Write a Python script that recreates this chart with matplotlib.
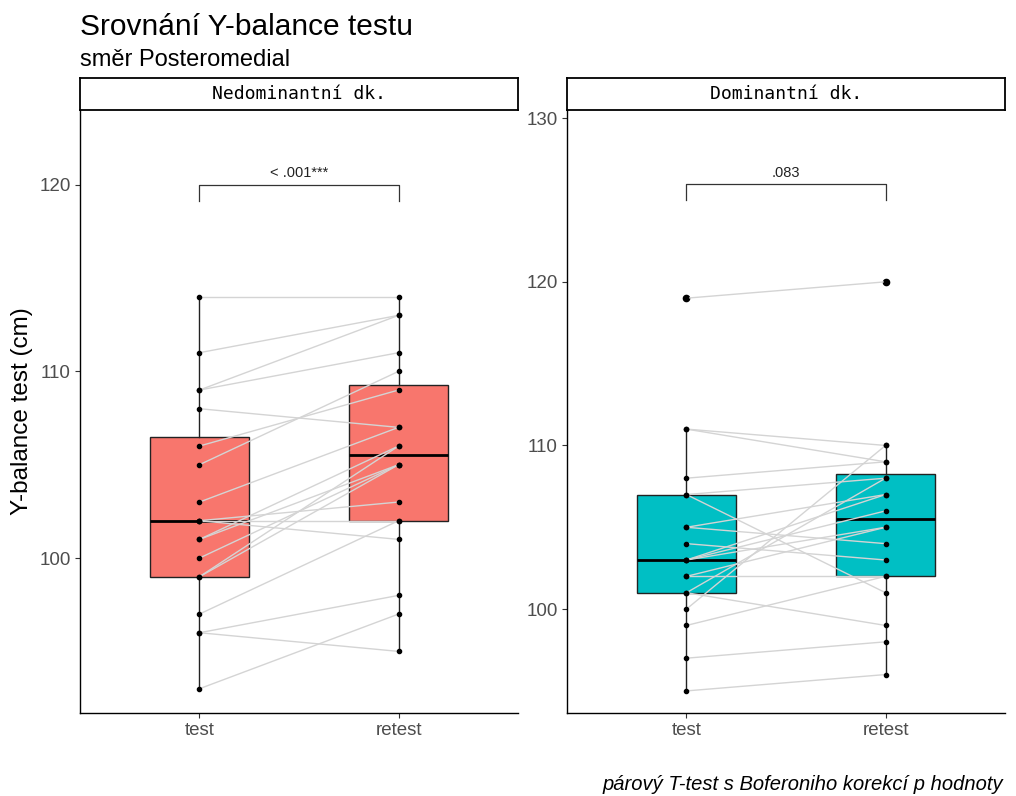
import matplotlib
matplotlib.use("Agg")
import matplotlib.pyplot as plt

plt.rcParams['font.family'] = ['Liberation Sans', 'DejaVu Sans']

# data (paired test / retest, cm)
categories = ["test", "retest"]
panel_titles = ["Nedominantní dk.", "Dominantní dk."]

nedom_test = [114, 111, 109, 109, 108, 106, 105, 103, 102, 102,
              102, 101, 101, 100, 99, 99, 97, 96, 96, 93]
nedom_retest = [114, 113, 113, 111, 107, 109, 110, 107, 102, 101,
                103, 106, 105, 105, 106, 105, 102, 98, 95, 97]

dom_test = [119, 111, 111, 108, 107, 107, 105, 105, 104, 103,
            103, 103, 102, 102, 101, 101, 100, 99, 97, 95]
dom_retest = [120, 110, 109, 109, 101, 108, 104, 107, 103, 106,
              107, 105, 102, 105, 99, 108, 110, 102, 98, 96]

p_labels = ["< .001***", ".083"]
bracket_y = [120, 126]

fills = ["#F8766D", "#00BFC4"]

W, H = 1016, 796
fig = plt.figure(figsize=(W / 100, H / 100), dpi=100)


def draw_panel(left_px, test, retest, fill, title, plabel, by, ylim, yticks):
    ax = fig.add_axes([left_px / W, 1 - 713 / H, 438 / W, 603 / H])

    # paired lines
    for a, b in zip(test, retest):
        ax.plot([1, 2], [a, b], color="#d4d4d4", lw=1.0, zorder=3)

    bp = ax.boxplot([test, retest], positions=[1, 2], widths=0.5,
                    patch_artist=True, showcaps=False, whis=1.5,
                    medianprops=dict(color="black", lw=2.0),
                    whiskerprops=dict(color="#222222", lw=1.0),
                    boxprops=dict(edgecolor="#222222", lw=1.0),
                    flierprops=dict(marker="o", markerfacecolor="black",
                                    markeredgecolor="black", markersize=4.5))
    for patch in bp["boxes"]:
        patch.set_facecolor(fill)
        patch.set_zorder(2)
    for m in bp["medians"]:
        m.set_zorder(2.5)

    ax.scatter([1] * len(test), test, s=9, color="black", zorder=4)
    ax.scatter([2] * len(retest), retest, s=9, color="black", zorder=4)

    # significance bracket
    tip = 0.85 * (ylim[1] - ylim[0]) / 32
    ax.plot([1, 1, 2, 2], [by - tip, by, by, by - tip], color="#333333", lw=0.9)
    ax.text(1.5, by + 0.25, plabel, ha="center", va="bottom", fontsize=10.5,
            color="#222222")

    ax.set_xlim(0.4, 2.6)
    ax.set_ylim(*ylim)
    ax.set_xticks([1, 2])
    ax.set_xticklabels(categories)
    ax.set_yticks(yticks)
    for s in ["top", "right"]:
        ax.spines[s].set_visible(False)
    for s in ["left", "bottom"]:
        ax.spines[s].set_linewidth(1.0)
    ax.tick_params(length=3.5, width=0.8, color="#333333", labelcolor="#4D4D4D",
                   labelsize=13.5, pad=3)

    # facet strip
    st = fig.add_axes([left_px / W, 1 - 110 / H, 438 / W, 32 / H])
    st.set_xticks([])
    st.set_yticks([])
    for s in st.spines.values():
        s.set_linewidth(1.3)
        s.set_color("black")
    st.text(0.5, 0.5, title, ha="center", va="center", fontsize=13,
            family="DejaVu Sans Mono", transform=st.transAxes)
    return ax


draw_panel(80, nedom_test, nedom_retest, fills[0], panel_titles[0],
           p_labels[0], bracket_y[0], (91.7, 124.0), [100, 110, 120])
draw_panel(567, dom_test, dom_retest, fills[1], panel_titles[1],
           p_labels[1], bracket_y[1], (93.65, 130.5), [100, 110, 120, 130])

fig.text(80 / W, 1 - 35 / H, "Srovnání Y-balance testu", fontsize=21.5,
         va="baseline", ha="left")
fig.text(80 / W, 1 - 66 / H, "směr Posteromedial", fontsize=17,
         va="baseline", ha="left")
fig.text(22 / W, 1 - 411 / H, "Y-balance test (cm)", rotation=90,
         fontsize=17.5, ha="center", va="center")
fig.text(1003 / W, 1 - 785 / H, "párový T-test s Boferoniho korekcí p hodnoty",
         fontsize=14.5, style="italic", ha="right", va="center")

fig.savefig("out.png", dpi=100)
